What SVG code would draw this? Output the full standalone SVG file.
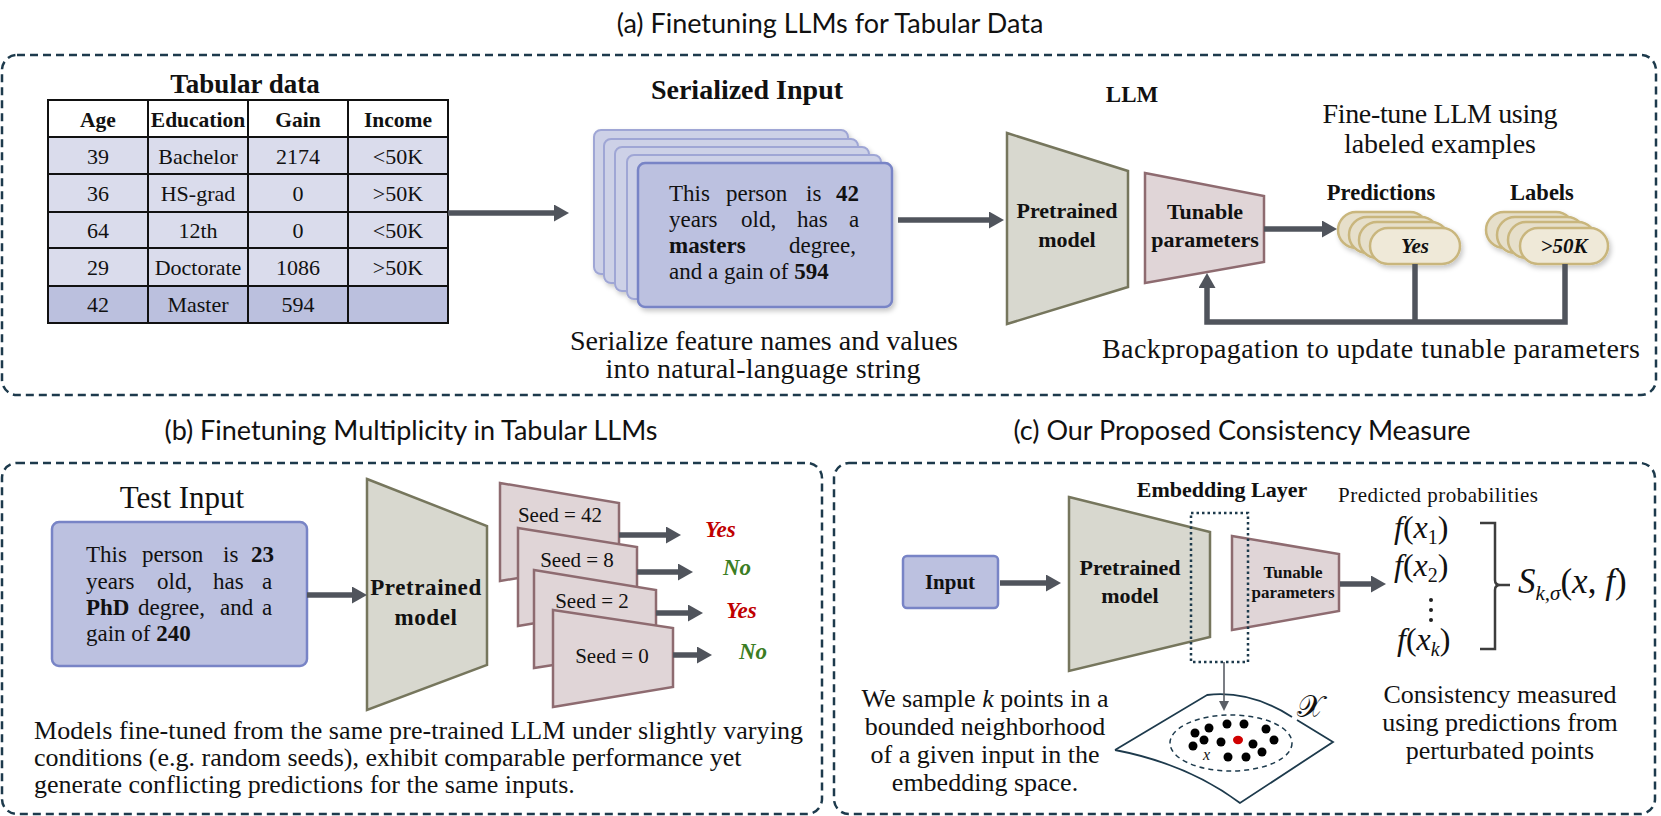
<svg xmlns="http://www.w3.org/2000/svg" width="1661" height="816" viewBox="0 0 1661 816">
<defs>
<style>
.panel{fill:none;stroke:#1d3a4c;stroke-width:2.5;stroke-dasharray:8 5}
.ttl{font-family:Lato,"Open Sans",sans-serif;font-size:27px;fill:#111;text-anchor:middle}
.s{font-family:"Liberation Serif","Times New Roman",serif;fill:#111}
.b{font-weight:bold}
.i{font-style:italic}
.c{text-anchor:middle}
.grid{fill:none;stroke:#111;stroke-width:2}
.arr{fill:none;stroke:#50545c;stroke-width:5.5;marker-end:url(#ah)}
.ln{fill:none;stroke:#50545c;stroke-width:5.5}
.pre{fill:#d8d8cf;stroke:#76765d;stroke-width:2.5}
.tun{fill:#e0d5d7;stroke:#8e6b70;stroke-width:2.5}
.card{fill:#bcc1e0;stroke:#7884c6;stroke-width:2.5}
.cardb{fill:#cdd1e7;stroke:#9fa6d5;stroke-width:2}
.pill{fill:#efe9d8;stroke:#c9b67d;stroke-width:2.5}
.pillb{fill:#e6dfca;stroke:#c9b67d;stroke-width:2.5}
.dot{fill:#000}
</style>
<marker id="ah" markerUnits="userSpaceOnUse" markerWidth="16" markerHeight="17" refX="3" refY="8.5" orient="auto"><path d="M0,0 L15,8.5 L0,17 Z" fill="#50545c"/></marker>
<marker id="ahs" markerUnits="userSpaceOnUse" markerWidth="10" markerHeight="10" refX="2" refY="5" orient="auto"><path d="M0,0 L10,5 L0,10 Z" fill="#5a5e66"/></marker>
<filter id="sh" x="-20%" y="-20%" width="140%" height="150%"><feDropShadow dx="2" dy="3" stdDeviation="2.5" flood-color="#000" flood-opacity="0.22"/></filter>
</defs>

<!-- Panel frames and titles -->
<g id="panel-a">
<text class="ttl" x="830" y="33">(a) Finetuning LLMs for Tabular Data</text>
<rect class="panel" x="2" y="55" width="1654" height="340" rx="15"/>
</g>
<g id="panel-b">
<text class="ttl" x="411" y="440">(b) Finetuning Multiplicity in Tabular LLMs</text>
<rect class="panel" x="2" y="463" width="820" height="351" rx="15"/>
</g>
<g id="panel-c">
<text class="ttl" x="1242" y="440">(c) Our Proposed Consistency Measure</text>
<rect class="panel" x="834" y="463" width="821" height="351" rx="15"/>
</g>

<!-- (a) Table -->
<g id="table">
<text class="s b c" x="245" y="93" font-size="27">Tabular data</text>
<rect x="48" y="100" width="400" height="37" fill="#fff"/>
<rect x="48" y="137" width="400" height="149" fill="#dadcec"/>
<rect x="48" y="286" width="400" height="37" fill="#bbc0de"/>
<path class="grid" d="M48,100H448V323H48Z M148,100V323 M248,100V323 M348,100V323 M48,137H448 M48,174H448 M48,212H448 M48,248H448 M48,286H448"/>
<g class="s b c" font-size="21.5">
<text x="98" y="127">Age</text><text x="198" y="127">Education</text><text x="298" y="127">Gain</text><text x="398" y="127">Income</text>
</g>
<g class="s c" font-size="22">
<text x="98" y="164">39</text><text x="198" y="164">Bachelor</text><text x="298" y="164">2174</text><text x="398" y="164">&lt;50K</text>
<text x="98" y="201">36</text><text x="198" y="201">HS-grad</text><text x="298" y="201">0</text><text x="398" y="201">&gt;50K</text>
<text x="98" y="238">64</text><text x="198" y="238">12th</text><text x="298" y="238">0</text><text x="398" y="238">&lt;50K</text>
<text x="98" y="275">29</text><text x="198" y="275">Doctorate</text><text x="298" y="275">1086</text><text x="398" y="275">&gt;50K</text>
<text x="98" y="312">42</text><text x="198" y="312">Master</text><text x="298" y="312">594</text>
</g>
</g>

<!-- (a) Serialized input -->
<g id="serialized-input">
<text class="s b c" x="747" y="99" font-size="28">Serialized Input</text>
<g filter="url(#sh)">
<rect class="cardb" x="594" y="130" width="254" height="144" rx="7"/>
<rect class="cardb" x="604" y="139" width="254" height="144" rx="7"/>
<rect class="cardb" x="615" y="147" width="254" height="144" rx="7"/>
<rect class="cardb" x="627" y="155" width="254" height="144" rx="7"/>
<rect class="card" x="638" y="163" width="254" height="144" rx="7"/>
</g>
<g class="s" font-size="23">
<text y="201"><tspan x="669">This</tspan><tspan x="726">person</tspan><tspan x="806">is</tspan><tspan x="836" class="b">42</tspan></text>
<text y="227"><tspan x="669">years</tspan><tspan x="741">old,</tspan><tspan x="797">has</tspan><tspan x="849">a</tspan></text>
<text y="253"><tspan x="669" class="b">masters</tspan><tspan x="789">degree,</tspan></text>
<text x="669" y="279">and a gain of <tspan class="b">594</tspan></text>
</g>
<text class="s c" x="764" y="350" font-size="28" textLength="388">Serialize feature names and values</text>
<text class="s c" x="763" y="378" font-size="28" textLength="315">into natural-language string</text>
</g>

<!-- (a) LLM -->
<g id="llm-a">
<text class="s b c" x="1132" y="102" font-size="23">LLM</text>
<polygon class="pre" points="1007,133 1128,171 1128,287 1007,324"/>
<text class="s b c" x="1067" y="218" font-size="22">Pretrained</text>
<text class="s b c" x="1067" y="247" font-size="22">model</text>
<polygon class="tun" points="1145,173 1264,196 1264,262 1145,283"/>
<text class="s b c" x="1205" y="219" font-size="22">Tunable</text>
<text class="s b c" x="1205" y="247" font-size="22">parameters</text>
</g>

<g id="finetune-note">
<text class="s c" x="1440" y="123" font-size="28" textLength="235">Fine-tune LLM using</text>
<text class="s c" x="1440" y="153" font-size="28" textLength="192">labeled examples</text>
</g>

<g id="predictions">
<text class="s b c" x="1381" y="200" font-size="22.5">Predictions</text>
<g filter="url(#sh)">
<rect class="pillb" x="1338" y="212" width="90" height="36" rx="18"/>
<rect class="pillb" x="1349" y="217" width="90" height="36" rx="18"/>
<rect class="pillb" x="1359" y="222" width="90" height="36" rx="18"/>
<rect class="pill" x="1370" y="228" width="90" height="36" rx="18"/>
</g>
<text class="s b i c" x="1415" y="253" font-size="21">Yes</text>
</g>

<g id="labels">
<text class="s b c" x="1542" y="200" font-size="22.5">Labels</text>
<g filter="url(#sh)">
<rect class="pillb" x="1486" y="212" width="88" height="36" rx="18"/>
<rect class="pillb" x="1497" y="217" width="88" height="36" rx="18"/>
<rect class="pillb" x="1508" y="222" width="88" height="36" rx="18"/>
<rect class="pill" x="1520" y="228" width="88" height="36" rx="18"/>
</g>
<text class="s b i c" x="1564" y="253" font-size="21">&gt;50K</text>
</g>

<text class="s c" x="1371" y="358" font-size="28" textLength="538">Backpropagation to update tunable parameters</text>

<!-- (b) -->
<g id="test-input">
<text class="s c" x="182" y="508" font-size="31">Test Input</text>
<rect class="card" x="52" y="522" width="255" height="144" rx="7"/>
<g class="s" font-size="23">
<text y="562"><tspan x="86">This</tspan><tspan x="142">person</tspan><tspan x="223">is</tspan><tspan x="251" class="b">23</tspan></text>
<text y="589"><tspan x="86">years</tspan><tspan x="157">old,</tspan><tspan x="213">has</tspan><tspan x="262">a</tspan></text>
<text y="615"><tspan x="86" class="b">PhD</tspan><tspan x="138">degree,</tspan><tspan x="220">and</tspan><tspan x="262">a</tspan></text>
<text x="86" y="641">gain of <tspan class="b">240</tspan></text>
</g>
</g>

<g id="pretrained-b">
<polygon class="pre" points="367,479 487,526 487,665 367,710"/>
<text class="s b c" x="426" y="595" font-size="23" letter-spacing="0.6">Pretrained</text>
<text class="s b c" x="426" y="625" font-size="23" letter-spacing="0.6">model</text>
</g>

<g id="seeds">
<polygon class="tun" points="500,483 619,503 619,561 500,581"/>
<text class="s c" x="560" y="522" font-size="21">Seed = 42</text>
<polygon class="tun" points="518,528 637,547 637,606 518,626"/>
<text class="s c" x="577" y="567" font-size="21">Seed = 8</text>
<polygon class="tun" points="534,570 656,590 656,649 534,668"/>
<text class="s c" x="592" y="608" font-size="21">Seed = 2</text>
<polygon class="tun" points="553,610 673,628 673,687 553,707"/>
<text class="s c" x="612" y="663" font-size="21">Seed = 0</text>
</g>

<g id="seed-outputs" class="s b i" font-size="23">
<text x="705" y="537" fill="#c00000">Yes</text>
<text x="723" y="575" fill="#3b7d23">No</text>
<text x="726" y="618" fill="#c00000">Yes</text>
<text x="739" y="659" fill="#3b7d23">No</text>
</g>

<g id="caption-b" class="s" font-size="26">
<text x="34" y="739" textLength="769">Models fine-tuned from the same pre-trained LLM under slightly varying</text>
<text x="34" y="766">conditions (e.g. random seeds), exhibit comparable performance yet</text>
<text x="34" y="793">generate conflicting predictions for the same inputs.</text>
</g>

<!-- (c) -->
<g id="input-c">
<rect class="card" x="903" y="556" width="95" height="52" rx="4"/>
<text class="s b c" x="950" y="589" font-size="21">Input</text>
</g>
<g id="pretrained-c">
<polygon class="pre" points="1069,497 1210,532 1210,637 1069,671"/>
<text class="s b c" x="1130" y="575" font-size="22">Pretrained</text>
<text class="s b c" x="1130" y="603" font-size="22">model</text>
</g>
<g id="tunable-c">
<polygon class="tun" points="1232,536 1339,554 1339,611 1232,630"/>
<text class="s b c" x="1293" y="578" font-size="17">Tunable</text>
<text class="s b c" x="1293" y="598" font-size="17">parameters</text>
</g>
<g id="embedding-layer">
<text class="s b c" x="1222" y="497" font-size="22">Embedding Layer</text>
<rect x="1191" y="513" width="57" height="149" fill="none" stroke="#1d3a4c" stroke-width="2.5" stroke-dasharray="2.5 3"/>
</g>

<g id="embedding-space">
<path d="M1115,750 L1207,695 Q1250,690 1292,717 M1297,720 L1333,742 L1240,803 Q1188,764 1115,750" fill="none" stroke="#1d3a4c" stroke-width="1.8"/>
<ellipse cx="1231" cy="743" rx="61" ry="28" fill="none" stroke="#1d3a4c" stroke-width="1.5" stroke-dasharray="5 4"/>
<circle class="dot" cx="1195" cy="733" r="4.5"/><circle class="dot" cx="1209" cy="728" r="4.5"/>
<circle class="dot" cx="1227" cy="724" r="4.5"/><circle class="dot" cx="1244" cy="724" r="4.5"/>
<circle class="dot" cx="1266" cy="729" r="4.5"/><circle class="dot" cx="1274" cy="740" r="4.5"/>
<circle class="dot" cx="1204" cy="740" r="4.5"/><circle class="dot" cx="1221" cy="742" r="4.5"/>
<circle class="dot" cx="1253" cy="744" r="4.5"/><circle class="dot" cx="1193" cy="746" r="4.5"/>
<circle class="dot" cx="1262" cy="752" r="4.5"/><circle class="dot" cx="1228" cy="757" r="4.5"/>
<circle class="dot" cx="1246" cy="757" r="4.5"/>
<ellipse cx="1238" cy="740" rx="5" ry="4.2" fill="#d00000"/>
<text class="s i" x="1203" y="760" font-size="16">x</text>
<text x="1297" y="717" font-size="31" font-family="'DejaVu Serif','DejaVu Sans',serif" fill="#111">𝒳</text>
</g>

<g id="sample-note" class="s c" font-size="26">
<text x="985" y="707">We sample <tspan class="i">k</tspan> points in a</text>
<text x="985" y="735">bounded neighborhood</text>
<text x="985" y="763">of a given input in the</text>
<text x="985" y="791">embedding space.</text>
</g>

<g id="probabilities">
<text class="s c" x="1438" y="502" font-size="21" textLength="200">Predicted probabilities</text>
<g class="s" font-size="32" fill="#222">
<text x="1394" y="538"><tspan class="i">f</tspan>(<tspan class="i">x</tspan><tspan font-size="20" dy="6">1</tspan><tspan dy="-6">)</tspan></text>
<text x="1394" y="576"><tspan class="i">f</tspan>(<tspan class="i">x</tspan><tspan font-size="20" dy="6">2</tspan><tspan dy="-6">)</tspan></text>
<text x="1397" y="650"><tspan class="i">f</tspan>(<tspan class="i">x</tspan><tspan font-size="20" dy="6" class="i">k</tspan><tspan dy="-6">)</tspan></text>
</g>
<circle cx="1431" cy="600" r="2" fill="#222"/><circle cx="1431" cy="610" r="2" fill="#222"/><circle cx="1431" cy="620" r="2" fill="#222"/>
<path d="M1480,523 H1495 V580 Q1495,585 1500,585 H1510 M1500,585 Q1495,585 1495,590 V649 H1480" fill="none" stroke="#3d3d3d" stroke-width="2.5"/>
<text class="s" x="1518" y="593" font-size="35" fill="#222"><tspan class="i">S</tspan><tspan class="i" font-size="21" dy="7">k,σ</tspan><tspan dy="-7">(</tspan><tspan class="i">x</tspan>, <tspan class="i">f</tspan>)</text>
</g>

<g id="consistency-note" class="s c" font-size="26">
<text x="1500" y="703">Consistency measured</text>
<text x="1500" y="731">using predictions from</text>
<text x="1500" y="759">perturbated points</text>
</g>

<!-- Connectors -->
<g id="connectors">
<line class="arr" x1="448" y1="213" x2="557" y2="213"/>
<line class="arr" x1="898" y1="220" x2="992" y2="220"/>
<line class="arr" x1="1264" y1="229" x2="1325" y2="229"/>
<path class="arr" d="M1565,264 V322 H1207 V285"/>
<path class="ln" d="M1415,264 V322"/>
<line class="arr" x1="307" y1="595" x2="355" y2="595"/>
<line class="arr" x1="619" y1="535" x2="669" y2="535"/>
<line class="arr" x1="637" y1="572" x2="681" y2="572"/>
<line class="arr" x1="656" y1="613" x2="691" y2="613"/>
<line class="arr" x1="673" y1="655" x2="700" y2="655"/>
<line class="arr" x1="1000" y1="583" x2="1049" y2="583"/>
<line class="arr" x1="1340" y1="584" x2="1374" y2="584"/>
<line x1="1224" y1="662" x2="1224" y2="703" stroke="#5a5e66" stroke-width="1.6" marker-end="url(#ahs)"/>
</g>
</svg>
